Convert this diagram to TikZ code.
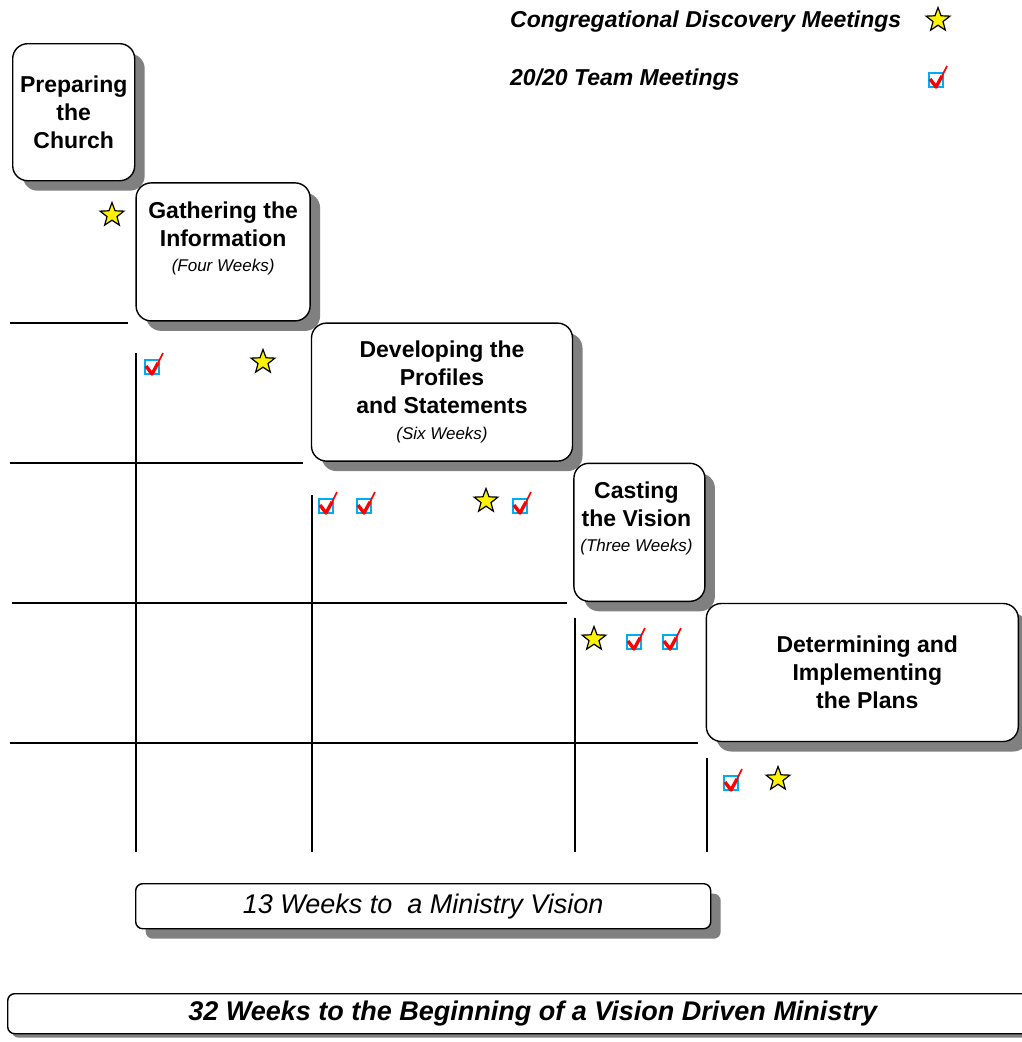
\documentclass[tikz,border=0pt]{standalone}
\usepackage{fontspec}
\setmainfont{Liberation Sans}
\usetikzlibrary{positioning,shapes.geometric,shadows}
\newcommand\weeksfont{\fontsize{17}{20}\selectfont\mdseries\itshape}
\tikzset{
  teamcheck/.pic={
    \draw[cyan,line width=1.2pt] (-8,-7) rectangle (6,7);
    \draw[red,line width=3.4pt,line join=round] (-7,-1) -- (-1,7) -- (5,-4);
    \draw[red,line width=1.6pt] (5,-4) -- (10,-14);
  }
}
\begin{document}
\begin{tikzpicture}[x=1pt,y=-1pt,
  phase/.style={draw,line width=1.4pt,rounded corners=15pt,fill=white,minimum height=138pt,inner sep=0pt,
    drop shadow={shadow xshift=10pt,shadow yshift=-10pt,fill=black!50,opacity=1}},
  phasetext/.style={align=center,inner sep=0pt,font=\fontsize{23}{28}\selectfont\bfseries},
  spanbox/.style={draw,line width=1.4pt,rounded corners=7pt,fill=white,inner sep=0pt,anchor=north west},
  legendtext/.style={anchor=west,inner sep=0pt,font=\fontsize{23}{28}\selectfont\bfseries\itshape},
  discostar/.style={star,star points=5,star point ratio=2.4,draw,fill=yellow,line width=1.2pt,minimum size=25pt,inner sep=0pt},
  gridline/.style={line width=1.3pt}]
\useasboundingbox (0,0) rectangle (1021,1042);

% the phases
\node[phase,minimum width=122pt,minimum height=137pt,anchor=north west] (prep) at (12,43) {};
\node[phase,minimum width=174pt,below right=0.8pt and 0pt of prep] (gather) {};
\node[phase,minimum width=261pt,below right=0.8pt and 0pt of gather] (develop) {};
\node[phase,minimum width=131pt,below right=0.8pt and 0pt of develop] (casting) {};
\node[phase,minimum width=312pt,below right=0.8pt and 0pt of casting] (plans) {};

\node[phasetext] (preptxt) at (prep) {Preparing\\the\\Church};
\node[phasetext] (gathertxt) at ([yshift=13pt]gather.center) {Gathering the\\Information\\[-3pt]{\weeksfont (Four Weeks)}};
\node[phasetext] (developtxt) at (develop) {Developing the\\Profiles\\and Statements\\[-2pt]{\weeksfont (Six Weeks)}};
\node[phasetext] (castingtxt) at ([xshift=-3pt,yshift=14pt]casting.center) {Casting\\the Vision\\[-3pt]{\weeksfont (Three Weeks)}};
\node[phasetext] (planstxt) at ([xshift=5pt]plans.center) {Determining and\\Implementing\\the Plans};

% grid
\foreach \y/\a/\b in {323/10/128, 463/10/303, 603/12/567, 743/10/698}
  \draw[gridline] (\a,\y) -- (\b,\y);
\foreach \x/\a in {136/353, 312/495, 575/618, 707/758}
  \draw[gridline] (\x,\a) -- (\x,852);

% meetings
\node[discostar] (s1) at (112,215) {};
\pic (c1) at (153,367) {teamcheck};
\node[discostar] (s2) at (263,362) {};
\pic (c2) at (327,506) {teamcheck};
\pic (c3) at (365,506) {teamcheck};
\node[discostar] (s3) at (486,501) {};
\pic (c4) at (521,506) {teamcheck};
\node[discostar] (s4) at (594,639) {};
\pic (c5) at (635,642) {teamcheck};
\pic (c6) at (671,642) {teamcheck};
\pic (c7) at (732,783) {teamcheck};
\node[discostar] (s5) at (778,779) {};

% legend
\node[legendtext] (cdm) at (510,22) {Congregational Discovery Meetings};
\node[discostar] (cdmstar) at (938,20) {};
\node[legendtext] (team) at (510,80) {20/20 Team Meetings};
\pic (teamicon) at (937,80) {teamcheck};

% spans
\node[spanbox,minimum width=575pt,minimum height=45pt,font=\fontsize{27}{30}\selectfont\itshape,
  drop shadow={shadow xshift=10pt,shadow yshift=-10pt,fill=black!50,opacity=1}] (thirteen) at (135,883) {13 Weeks to~ a Ministry Vision};
\node[spanbox,minimum width=1050pt,minimum height=40pt,font=\fontsize{27}{30}\selectfont\bfseries\itshape,
  drop shadow={shadow xshift=4pt,shadow yshift=-4pt,fill=black!50,opacity=1}] (thirtytwo) at (7,993) {32 Weeks to the Beginning of a Vision Driven Ministry};
\end{tikzpicture}
\end{document}
